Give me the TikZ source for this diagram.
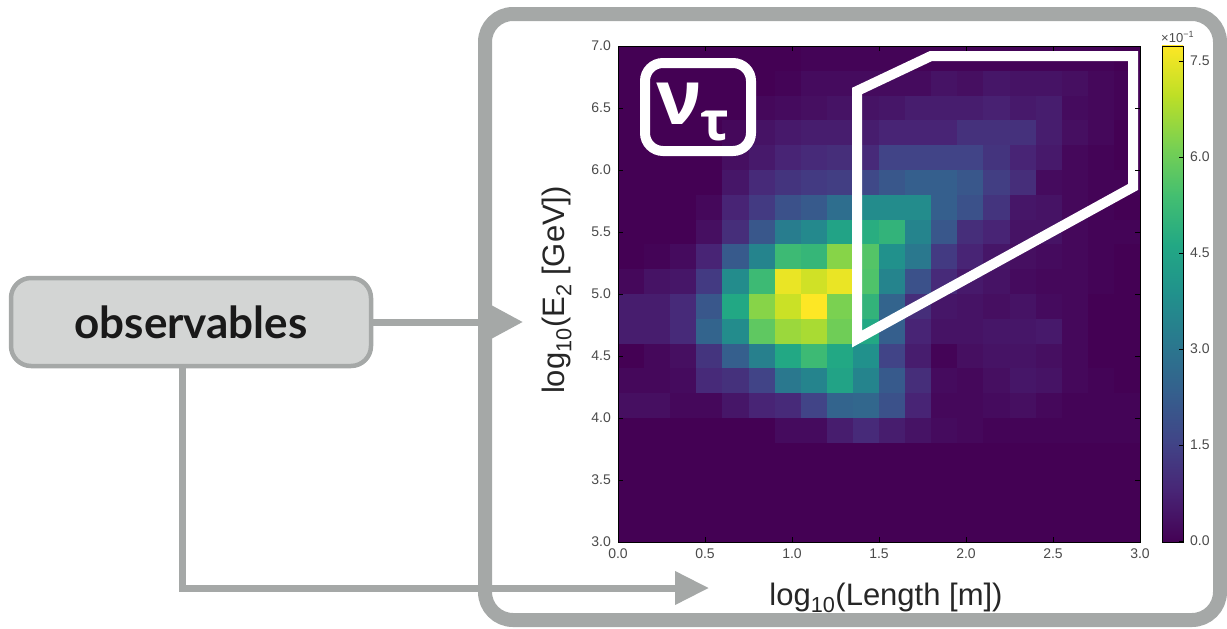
\documentclass[tikz,border=0pt]{standalone}
\usepackage{fontspec}
\setmainfont{Liberation Sans}
\newfontfamily\obsfont{Lato}
\newfontfamily\greekfont{Open Sans}
\usetikzlibrary{arrows.meta}
\definecolor{vir0}{HTML}{440154}
\definecolor{vir1}{HTML}{482475}
\definecolor{vir2}{HTML}{414487}
\definecolor{vir3}{HTML}{355F8D}
\definecolor{vir4}{HTML}{2A788E}
\definecolor{vir5}{HTML}{21918C}
\definecolor{vir6}{HTML}{22A884}
\definecolor{vir7}{HTML}{44BF70}
\definecolor{vir8}{HTML}{7AD151}
\definecolor{vir9}{HTML}{BDDF26}
\definecolor{vir10}{HTML}{FDE725}
\definecolor{framegray}{HTML}{A5A8A7}
\definecolor{boxfill}{HTML}{D3D5D4}
\definecolor{ticktext}{HTML}{4A4A4A}
\begin{document}
\begin{tikzpicture}[x=1pt,y=-1pt,
  panel/.style={draw=framegray, line width=14pt, rounded corners=28pt, minimum width=735pt, minimum height=606pt, inner sep=0pt},
  obsbox/.style={draw=framegray, fill=boxfill, line width=4.5pt, rounded corners=20pt, minimum width=360pt, minimum height=88pt, font=\obsfont\bfseries\fontsize{44}{44}\selectfont, text=black!90},
  conn/.style={draw=framegray, line width=7pt},
  tiplabel/.style={font=\fontsize{14}{14}\selectfont, text=ticktext, inner sep=0pt},
  axlabel/.style={font=\fontsize{31}{31}\selectfont, text=black!85, inner sep=0pt},
  region/.style={draw=white, line width=10pt, line join=miter},
  nubox/.style={draw=white, line width=10pt, rounded corners=18pt, minimum width=106pt, minimum height=88pt, inner sep=0pt}
]
\useasboundingbox (0,0) rectangle (1227,629);

% outer panel
\node[panel] (frame) at (852.5,317) {};

% heatmap background
\fill[vir0] (618,46) rectangle (1140,542);
\foreach \row [count=\r from 0] in {
{0,0,0,0,0,0,0,0.01,0.01,0.01,0.01,0.01,0.01,0.01,0.01,0.01,0.01,0.01,0.01,0},
{0,0,0,0,0,0,0.01,0.03,0.03,0.03,0.03,0.03,0.05,0.04,0.06,0.05,0.05,0.04,0.02,0.01},
{0,0,0,0,0,0.02,0.03,0.04,0.05,0.05,0.06,0.08,0.08,0.08,0.09,0.07,0.08,0.03,0.02,0.01},
{0,0,0,0,0.02,0.05,0.07,0.08,0.08,0.08,0.1,0.1,0.1,0.14,0.14,0.14,0.08,0.04,0.02,0},
{0,0,0,0,0.04,0.07,0.1,0.12,0.13,0.12,0.2,0.2,0.2,0.2,0.15,0.1,0.07,0.02,0.01,0},
{0,0,0,0,0.06,0.12,0.15,0.17,0.18,0.22,0.27,0.3,0.3,0.27,0.18,0.13,0.03,0.02,0.01,0.01},
{0,0,0,0.02,0.1,0.17,0.25,0.28,0.36,0.48,0.48,0.48,0.3,0.25,0.15,0.06,0.05,0.02,0.01,0},
{0,0,0,0.04,0.13,0.27,0.42,0.47,0.58,0.62,0.65,0.45,0.27,0.13,0.1,0.05,0.05,0.02,0.01,0.01},
{0,0.01,0.03,0.1,0.28,0.45,0.68,0.66,0.82,0.73,0.5,0.4,0.17,0.1,0.06,0.04,0.03,0.02,0.01,0},
{0.02,0.05,0.06,0.17,0.48,0.68,0.97,0.93,0.97,0.72,0.45,0.25,0.12,0.07,0.05,0.03,0.02,0.02,0.01,0},
{0.08,0.08,0.12,0.27,0.6,0.82,0.92,1.0,0.8,0.65,0.32,0.13,0.06,0.05,0.04,0.05,0.03,0.02,0,0},
{0.08,0.08,0.12,0.32,0.48,0.75,0.85,0.87,0.78,0.6,0.3,0.1,0.05,0.05,0.06,0.06,0.07,0.02,0,0},
{0,0.02,0.04,0.15,0.3,0.43,0.6,0.68,0.6,0.5,0.2,0.08,0.01,0.04,0.05,0.05,0.04,0.02,0,0},
{0.02,0.02,0.03,0.12,0.14,0.2,0.4,0.45,0.58,0.45,0.28,0.13,0.03,0.02,0.04,0.06,0.05,0.02,0.01,0},
{0.04,0.04,0.02,0.02,0.06,0.1,0.12,0.2,0.32,0.33,0.25,0.1,0.02,0.02,0.03,0.04,0.02,0.01,0.01,0.01},
{0,0,0,0,0,0,0.03,0.03,0.08,0.12,0.08,0.05,0.03,0.02,0.01,0.01,0.01,0.01,0.01,0.01}}{
  \foreach \v [count=\c from 0] in \row {
    \pgfmathtruncatemacro\k{min(floor(\v*10),9)}
    \pgfmathtruncatemacro\kk{\k+1}
    \pgfmathtruncatemacro\p{max(0,min(100,round((\v*10-\k)*100)))}
    \fill[fill=vir\kk!\p!vir\k] (618+26.1*\c,46+24.8*\r) rectangle (618+26.1*\c+26.4,46+24.8*\r+25.1);
  }
}

% white region
\draw[region] (857,339) -- (857,91) -- (931,56) -- (1133,56) -- (1133,187) -- cycle;

% nu_tau box
\node[nubox] (nubox) at (698,107) {};
\node[text=white, inner sep=0pt, anchor=base, font=\greekfont\bfseries\fontsize{76}{76}\selectfont] (nu) at (679,124) {ν};
\node[text=white, inner sep=0pt, anchor=base, font=\greekfont\bfseries\fontsize{54}{54}\selectfont] (tau) at (715,140) {τ};

% axes frame
\draw[line width=1pt] (618,46) rectangle (1140,542);
\foreach \X [count=\i] in {0.0,0.5,1.0,1.5,2.0,2.5,3.0}{
  \draw[line width=0.8pt] (618+174*\X,542) -- (618+174*\X,537);
  \draw[line width=0.8pt] (618+174*\X,46) -- (618+174*\X,51);
  \node[tiplabel, anchor=north] (xt\i) at (618+174*\X,549) {\X};
}
\foreach \Y [count=\i] in {3.0,3.5,4.0,4.5,5.0,5.5,6.0,6.5,7.0}{
  \draw[line width=0.8pt] (618,542-124*\Y+372) -- (623,542-124*\Y+372);
  \draw[line width=0.8pt] (1140,542-124*\Y+372) -- (1135,542-124*\Y+372);
  \node[tiplabel, anchor=east] (yt\i) at (611,542-124*\Y+372) {\Y};
}

% colorbar
\foreach \k in {0,...,9}{
  \pgfmathtruncatemacro\kk{\k+1}
  \shade[bottom color=vir\k, top color=vir\kk] (1162,542-49.6*\k+0.4) rectangle (1183,542-49.6*\k-50);
}
\draw[line width=1pt] (1162,46) rectangle (1183,542);
\foreach \V [count=\i] in {0.0,1.5,3.0,4.5,6.0,7.5}{
  \draw[line width=0.8pt] (1183,541-64*\V) -- (1179,541-64*\V);
  \node[tiplabel, anchor=west] (ct\i) at (1190,541-64*\V) {\V};
}
\node[tiplabel, font=\fontsize{13}{13}\selectfont, anchor=base west] (cexp) at (1161,42) {×10\raisebox{5pt}{\fontsize{9}{9}\selectfont −1}};

% axis labels
\node[axlabel, rotate=90] (ylab) at (557,290) {log\textsubscript{10}(E\textsubscript{2} [GeV])};
\node[axlabel] (xlab) at (886,598) {log\textsubscript{10}(Length [m])};

% observables box and connectors
\node[obsbox] (obs) at (191,322) {observables};
\coordinate (tipA) at (523,322);
\coordinate (corner) at (182,588);
\coordinate (tipB) at (709,588);
\draw[conn, -{Triangle[length=32pt,width=32pt]}] (obs.east) -- (tipA);
\draw[conn, -{Triangle[length=34pt,width=32pt]}] (obs.south -| corner) -- (corner) -- (tipB);
\end{tikzpicture}
\end{document}
